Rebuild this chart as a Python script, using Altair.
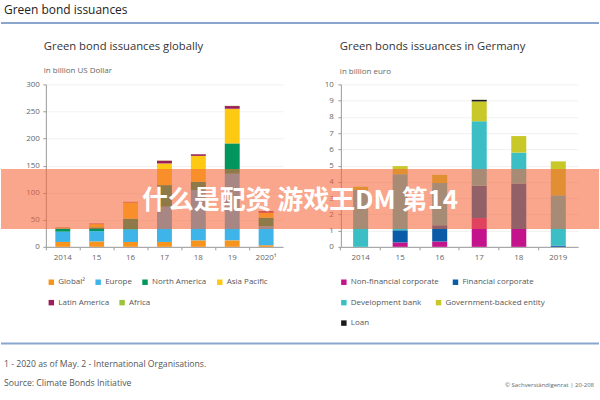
import altair as alt
import pandas as pd

FONT = "Open Sans"

# ---------------- data ----------------
global_years = ["2014", "15", "16", "17", "18", "19", "2020¹"]
global_regions = ["Global²", "Europe", "North America", "Asia Pacific", "Latin America", "Africa"]
global_colors = ["#f7941d", "#3fb4e8", "#00965e", "#fdc913", "#9c1c5c", "#9dc23c"]
g_global = [9, 10, 9, 9, 12, 12, 3]
g_europe = [19, 19, 23, 65, 93, 123, 35]
g_namerica = [6, 7, 20, 40, 15, 56, 16]
g_asiapac = [1.5, 6, 30, 40, 48, 64, 9]
g_latam = [0.5, 1, 1, 5, 3, 5, 3]
g_africa = [0, 0, 0.2, 0.5, 0.3, 0.5, 0.1]

de_years = ["2014", "15", "16", "17", "18", "2019"]
de_types = ["Non-financial corporate", "Financial corporate", "Development bank",
            "Government-backed entity", "Loan"]
de_colors = ["#c4148c", "#0a5ca8", "#3cbfc4", "#c8c829", "#1a1a1a"]
d_nonfin = [0, 0.27, 0.33, 1.77, 1.1, 0]
d_fin = [0, 0.75, 1.0, 2.0, 2.8, 0.08]
d_devbank = [3.5, 3.45, 2.6, 3.96, 1.9, 3.09]
d_govt = [0.2, 0.5, 0.5, 1.22, 1.02, 2.09]
d_loan = [0, 0, 0, 0.1, 0, 0]

g_series = [g_global, g_europe, g_namerica, g_asiapac, g_latam, g_africa]
d_series = [d_nonfin, d_fin, d_devbank, d_govt, d_loan]


def long_frame(years, names, series):
    rows = []
    for i, (name, vals) in enumerate(zip(names, series)):
        for yr, v in zip(years, vals):
            rows.append({"year": yr, "series": name, "value": v, "ord": i})
    return pd.DataFrame(rows)


df_global = long_frame(global_years, global_regions, g_series)
df_de = long_frame(de_years, de_types, d_series)

# ---------------- helpers ----------------
ONE = alt.Data(values=[{}])


def note(text, x, y, size, color="#444", align="left", weight="normal", font=FONT):
    return alt.Chart(ONE).mark_text(
        text=text, align=align, baseline="middle", fontSize=size,
        color=color, font=font, fontWeight=weight
    ).encode(x=alt.value(x), y=alt.value(y))


def hline(x1, x2, y, color="#8aa6cf", width=2):
    return alt.Chart(ONE).mark_rule(color=color, strokeWidth=width).encode(
        x=alt.value(x1), x2=alt.value(x2), y=alt.value(y))


def box(x1, x2, y1, y2, color, opacity=1.0):
    return alt.Chart(ONE).mark_rect(color=color, opacity=opacity).encode(
        x=alt.value(x1), x2=alt.value(x2), y=alt.value(y1), y2=alt.value(y2))


axis_common = dict(labelFont=FONT, labelFontSize=8, labelColor="#666",
                   domainColor="#9a9a9a", tickColor="#9a9a9a", tickSize=3)

legend_common = dict(title=None, orient="none", direction="horizontal",
                     symbolType="square", symbolSize=30, symbolStrokeWidth=0,
                     labelFont=FONT, labelFontSize=8, labelColor="#555",
                     labelOffset=3, rowPadding=12.5, padding=0)


def stacked(df, years, names_a, colors_a, names_b, colors_b, domain, ticks,
            pin, pout, bandpos, legA, legB, ypad):
    x_enc = alt.X("year:N", sort=years,
                  scale=alt.Scale(paddingInner=pin, paddingOuter=pout),
                  axis=alt.Axis(title=None, labelAngle=0, bandPosition=bandpos,
                                labelPadding=4, grid=False, **axis_common))
    y_enc = alt.Y("v0:Q", scale=alt.Scale(domain=domain, nice=False),
                  axis=alt.Axis(title=None, values=ticks, grid=True,
                                gridColor="#ececec", gridWidth=0.8,
                                labelPadding=ypad, **axis_common))
    base = alt.Chart(df).transform_stack(
        stack="value", groupby=["year"], as_=["v0", "v1"],
        sort=[alt.SortField("ord", order="ascending")])
    a = base.transform_filter(
        alt.FieldOneOfPredicate(field="series", oneOf=names_a)
    ).mark_bar().encode(
        x=x_enc, y=y_enc, y2="v1:Q",
        color=alt.Color("series:N", scale=alt.Scale(domain=names_a, range=colors_a),
                        legend=legA))
    b = base.transform_filter(
        alt.FieldOneOfPredicate(field="series", oneOf=names_b)
    ).mark_bar().encode(
        x=x_enc, y=y_enc, y2="v1:Q",
        fill=alt.Fill("series:N", scale=alt.Scale(domain=names_b, range=colors_b),
                      legend=legB))
    return a, b


W, H = 238, 163

# ---------------- left panel ----------------
la, lb = stacked(
    df_global, global_years,
    global_regions[:4], global_colors[:4], global_regions[4:], global_colors[4:],
    [0, 300], [0, 50, 100, 150, 200, 250, 300], 0.56, 0.28, -0.636,
    alt.Legend(legendX=1.5, legendY=194.5, columnPadding=9, **legend_common),
    alt.Legend(legendX=1.5, legendY=215, columnPadding=9, **legend_common),
    3.5)

left = alt.layer(
    box(-45, -44, -84, -83, "white"),
    box(554, 555, 315, 316, "white"),
    la, lb,
    note("Green bond issuances", -42, -75, 12, color="#222"),
    hline(-45, 555, -61.5),
    note("Green bond issuances globally", -2, -37, 11.3, color="#333"),
    note("in billion US Dollar", -2, -13.5, 8, color="#666"),
    hline(-45, 555, 260),
    note("1 - 2020 as of May.  2 - International Organisations.", -42, 281, 8.7, color="#555"),
    note("Source: Climate Bonds Initiative", -42, 300, 8.7, color="#555"),
    note("© Sachverständigenrat | 20-208", 550, 301.5, 6, color="#666", align="right"),
).properties(width=W, height=H)

# ---------------- right panel ----------------
ra, rb = stacked(
    df_de, de_years,
    de_types[:2], de_colors[:2], de_types[2:], de_colors[2:],
    [0, 10], list(range(0, 11)), 0.62, 0.31, -0.816,
    alt.Legend(legendX=-1, legendY=194.5, columnPadding=12, **legend_common),
    alt.Legend(legendX=-1, legendY=215, columns=2, columnPadding=13, **legend_common),
    4.5)

right = alt.layer(
    ra, rb,
    note("Green bonds issuances in Germany", -1, -37, 11.3, color="#333"),
    note("in billion euro", -1, -12, 8, color="#666"),
    box(-341, 259, 85, 145, "#f5663a", opacity=0.58),
    note("什么是配资 游戏王DM 第14", -41, 117, 26, color="white", align="center",
         weight="bold", font="Noto Sans CJK SC"),
).properties(width=W, height=H)

chart = alt.hconcat(left, right, spacing=58, bounds="flush").resolve_scale(
    color="independent", fill="independent"
).properties(padding=0).configure_view(stroke=None)

chart.save("out.html", embed_options={"renderer": "svg", "actions": False})
